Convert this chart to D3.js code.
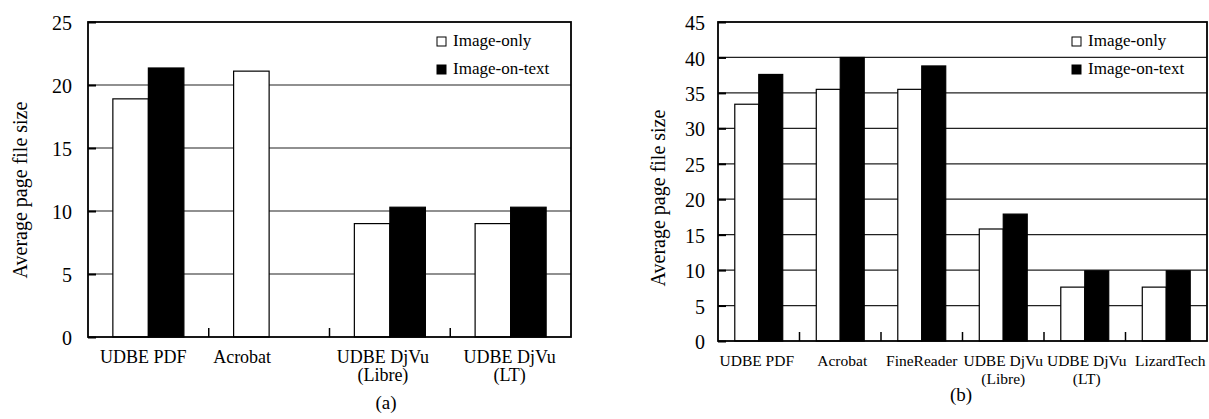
<!DOCTYPE html>
<html>
<head>
<meta charset="utf-8">
<script src="https://cdn.jsdelivr.net/npm/d3@7"></script>
<style>
  body { margin: 0; background: #fff; }
  svg { display: block; }
  svg text { font-family: "Liberation Serif", "Times New Roman", serif; }
</style>
</head>
<body>
<div id="chart"></div>
<script>
// series names
var seriesNames = ["Image-only", "Image-on-text"];

// chart (a) data
var categoriesA = [["UDBE PDF"], ["Acrobat"], ["UDBE DjVu", "(Libre)"], ["UDBE DjVu", "(LT)"]];
var imageOnlyA = [18.9, 21.1, 9.0, 9.0];
var imageOnTextA = [21.35, null, 10.3, 10.3];
var ticksA = [0, 5, 10, 15, 20, 25];

// chart (b) data
var categoriesB = [["UDBE PDF"], ["Acrobat"], ["FineReader"], ["UDBE DjVu", "(Libre)"], ["UDBE DjVu", "(LT)"], ["LizardTech"]];
var imageOnlyB = [33.4, 35.5, 35.5, 15.8, 7.6, 7.6];
var imageOnTextB = [37.6, 40.0, 38.8, 17.9, 9.9, 9.9];
var ticksB = [0, 5, 10, 15, 20, 25, 30, 35, 40, 45];

var svg = d3.select("#chart")
  .append("svg")
  .attr("width", 1209)
  .attr("height", 419);

svg.append("rect")
  .attr("width", 1209)
  .attr("height", 419)
  .attr("fill", "#fff");

function drawChart(opt) {
  var g = svg.append("g");
  var x0 = opt.left, x1 = opt.right, yTop = opt.top, yBot = opt.bottom;

  var x = d3.scaleBand()
    .domain(d3.range(opt.categories.length))
    .range([x0, x1]);
  var xs = d3.scaleBand()
    .domain(seriesNames)
    .range([0, x.bandwidth()])
    .paddingOuter(0.7);
  var y = d3.scaleLinear()
    .domain([0, d3.max(opt.ticks)])
    .range([yBot, yTop]);

  // gridlines
  g.selectAll(".grid")
    .data(opt.ticks.slice(1, -1))
    .enter()
    .append("line")
    .attr("x1", x0)
    .attr("x2", x1)
    .attr("y1", d => y(d))
    .attr("y2", d => y(d))
    .attr("stroke", "#222")
    .attr("stroke-width", 1.2);

  // bars
  var rows = [];
  opt.categories.forEach(function(c, i) {
    rows.push({i: i, s: seriesNames[0], v: opt.series[0][i]});
    rows.push({i: i, s: seriesNames[1], v: opt.series[1][i]});
  });
  g.selectAll(".bar")
    .data(rows.filter(d => d.v != null))
    .enter()
    .append("rect")
    .attr("x", d => x(d.i) + xs(d.s))
    .attr("y", d => y(d.v))
    .attr("width", xs.bandwidth())
    .attr("height", d => yBot - y(d.v))
    .attr("fill", d => d.s === seriesNames[0] ? "#fff" : "#000")
    .attr("stroke", "#000")
    .attr("stroke-width", 1.2);

  // y axis: labels and inward ticks
  var yAxis = g.append("g")
    .attr("transform", `translate(${x0},0)`)
    .call(d3.axisLeft(y).tickValues(opt.ticks).tickSize(-8).tickPadding(opt.tickPad));
  yAxis.attr("font-family", null);
  yAxis.select(".domain").remove();
  yAxis.selectAll("line").attr("stroke", "#000").attr("stroke-width", 2);
  yAxis.selectAll("text")
    .attr("font-size", "20px")
    .attr("fill", "#000")
    .attr("dy", "0.38em");

  // category boundary ticks
  g.selectAll(".ctick")
    .data(d3.range(1, opt.categories.length))
    .enter()
    .append("line")
    .attr("x1", d => x(d))
    .attr("x2", d => x(d))
    .attr("y1", yBot)
    .attr("y2", yBot - 9)
    .attr("stroke", "#000")
    .attr("stroke-width", 1.5);

  // frame
  g.append("rect")
    .attr("x", x0)
    .attr("y", yTop)
    .attr("width", x1 - x0)
    .attr("height", yBot - yTop)
    .attr("fill", "none")
    .attr("stroke", "#000")
    .attr("stroke-width", 1.8);

  // category labels
  var labels = g.selectAll(".xlabel")
    .data(opt.categories)
    .enter()
    .append("text")
    .attr("text-anchor", "middle")
    .attr("font-size", opt.xFont)
    .attr("transform", (d, i) => `translate(${x(i) + x.bandwidth() / 2 + opt.labelDx[i]},${yBot + opt.labelGap})`);
  labels.selectAll("tspan")
    .data(d => d)
    .enter()
    .append("tspan")
    .attr("x", 0)
    .attr("dy", (d, j) => j === 0 ? 0 : 18)
    .text(d => d);

  // y axis title
  g.append("text")
    .attr("transform", `translate(${opt.titleX},${opt.titleY}) rotate(-90)`)
    .attr("text-anchor", "middle")
    .attr("dy", "0.35em")
    .attr("font-size", "20px")
    .text("Average page file size");

  // legend
  seriesNames.forEach(function(s, k) {
    g.append("rect")
      .attr("x", opt.legendX)
      .attr("y", yTop + 15 + k * 28)
      .attr("width", 9)
      .attr("height", 9)
      .attr("fill", k === 0 ? "#fff" : "#000")
      .attr("stroke", "#000")
      .attr("stroke-width", 1);
    g.append("text")
      .attr("x", opt.legendX + 16)
      .attr("y", yTop + 24 + k * 28)
      .attr("font-size", "17px")
      .text(s);
  });

  // panel caption
  g.append("text")
    .attr("x", opt.capX)
    .attr("y", opt.capY)
    .attr("text-anchor", "middle")
    .attr("font-size", "19px")
    .text(opt.caption);
}

drawChart({
  categories: categoriesA,
  series: [imageOnlyA, imageOnTextA],
  ticks: ticksA,
  left: 88, right: 571, top: 22, bottom: 337,
  tickPad: 16,
  xFont: "18px",
  labelGap: 26,
  labelDx: [-5, -27, -7, -1],
  titleX: 20, titleY: 190,
  legendX: 437,
  capX: 386, capY: 409,
  caption: "(a)"
});

drawChart({
  categories: categoriesB,
  series: [imageOnlyB, imageOnTextB],
  ticks: ticksB,
  left: 718, right: 1207, top: 22, bottom: 341,
  tickPad: 13,
  xFont: "15.5px",
  labelGap: 25,
  labelDx: [-2, 2, 0, 0, 2, 4],
  titleX: 658, titleY: 198,
  legendX: 1072,
  capX: 961, capY: 401,
  caption: "(b)"
});
</script>
</body>
</html>
